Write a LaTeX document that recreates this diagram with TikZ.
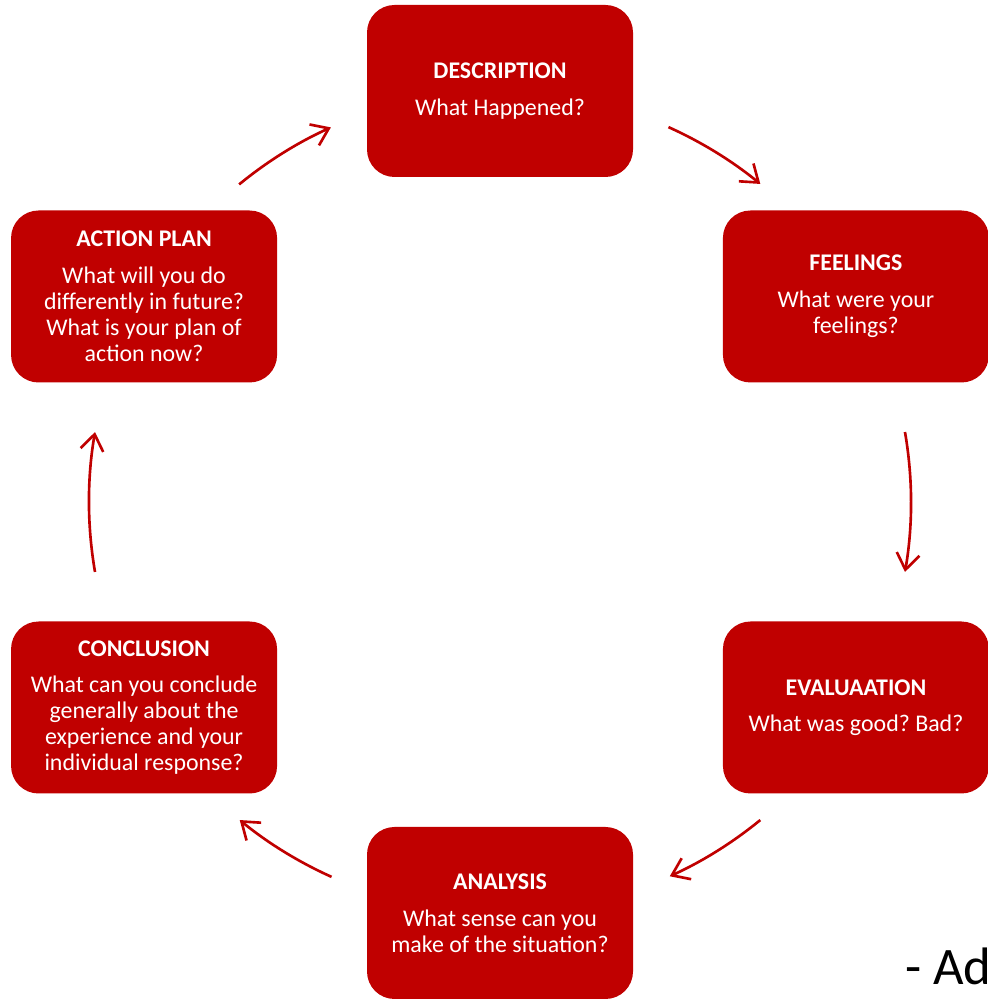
\documentclass[tikz,border=0pt]{standalone}
\usepackage{fontspec}
\setmainfont{Carlito}
\usepackage{xcolor}
\usetikzlibrary{arrows.meta, positioning}
\definecolor{gibbsred}{HTML}{C00000}
\newcommand{\stagehead}[1]{{\bfseries #1}\\[6pt]}
\frenchspacing

\begin{document}
\begin{tikzpicture}[
    stage/.style={rectangle, rounded corners=0.55cm, fill=gibbsred, text=white,
                  minimum width=5.32cm, minimum height=3.44cm, inner sep=0pt,
                  align=center, font=\fontsize{13.6}{14.8}\selectfont},
    cyc/.style={draw=gibbsred, line width=1.5pt,
                -{Straight Barb[length=3.2mm,width=4.6mm]}},
]
\useasboundingbox (0,0) rectangle (19.74,19.98);
\coordinate (hub) at (10.00,9.94);
%% Stages of the cycle
\node[stage] (desc) at ([shift={(90:8.22)}]hub)  {\stagehead{DESCRIPTION}What Happened?};
\node[stage] (feel) at ([shift={(30:8.22)}]hub)  {\stagehead{FEELINGS}What were your\\feelings?};
\node[stage] (eval) at ([shift={(-30:8.22)}]hub) {\stagehead{EVALUAATION}What was good? Bad?};
\node[stage] (anal) at ([shift={(-90:8.22)}]hub) {\stagehead{ANALYSIS}What sense can you\\make of the situation?};
\node[stage] (conc) at ([shift={(210:8.22)}]hub) {\stagehead{CONCLUSION}What can you conclude\\generally about the\\experience and your\\individual response?};
\node[stage] (act)  at ([shift={(150:8.22)}]hub) {\stagehead{ACTION PLAN}What will you do\\differently in future?\\What is your plan of\\action now?};
%% Arrows round the cycle, on the circle through the stages
\foreach \a/\b in {129.4/114.3, 65.8/50.7, 9.8/-9.8, -50.7/-65.6, -114.2/-129.3, 189.8/170.2}
  \draw[cyc] ([shift={(\a:8.22)}]hub) arc[start angle=\a, end angle=\b, radius=8.22];
%% Source note, cut by the edge
\node[anchor=base west, inner sep=0pt, font=\fontsize{30}{36}\selectfont] (src) at (18.10,0.28) {- Ad};
\end{tikzpicture}
\end{document}
